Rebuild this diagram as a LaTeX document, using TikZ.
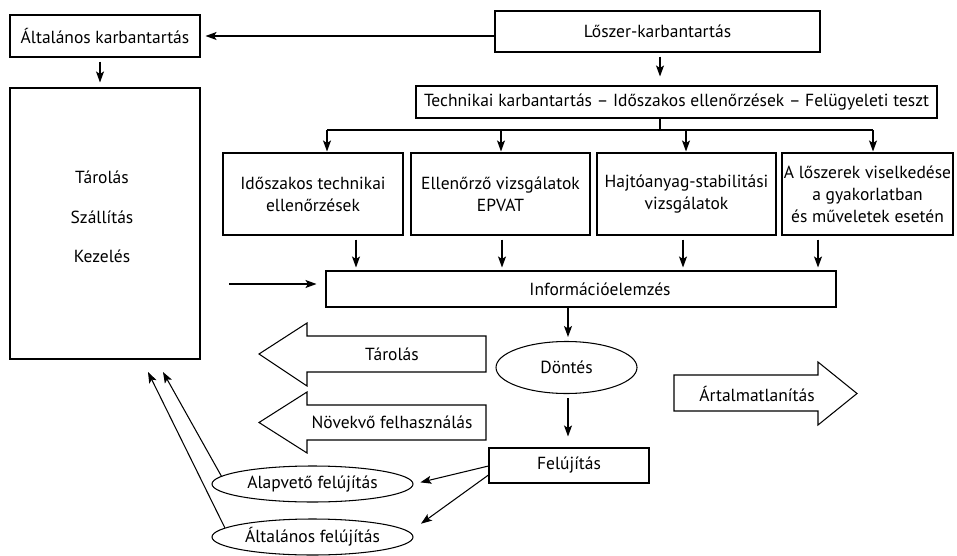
\documentclass[tikz,border=0pt]{standalone}
\usepackage{fontspec}
\setmainfont{PT Sans}
\usetikzlibrary{arrows.meta,shapes.geometric}
\begin{document}
\begin{tikzpicture}[x=1pt,y=-1pt,
  every node/.style={font=\fontsize{17.5}{22}\selectfont},
  box/.style={draw, line width=1.05pt, rectangle, inner sep=0pt, align=center},
  oval/.style={draw, line width=1.05pt, ellipse, inner sep=0pt},
  arr/.style={line width=1.05pt, -{Stealth[length=11pt,width=8pt,inset=2.5pt]}},
  ln/.style={line width=1.05pt},
  bigarrow/.style={draw, line width=1.05pt, line join=miter},
]
\path[use as bounding box] (0,0) rectangle (957,556);

% nodes
\node[box, minimum width=190pt, minimum height=42pt] (gen) at (105,36) {Általános karbantartás};
\node[box, minimum width=325pt, minimum height=41pt] (losz) at (657.5,31.5) {Lőszer-karbantartás};
\node[box, minimum width=521pt, minimum height=32pt] (tech) at (676.5,102) {Technikai karbantartás – Időszakos ellenőrzések – Felügyeleti teszt};

\node[box, minimum width=180pt, minimum height=82pt] (b1) at (313,194) {Időszakos technikai\\ellenőrzések};
\node[box, minimum width=179pt, minimum height=82pt] (b2) at (500.5,194) {Ellenőrző vizsgálatok\\EPVAT};
\node[box, minimum width=179pt, minimum height=82pt] (b3) at (686.5,194) {Hajtóanyag-stabilitási\\vizsgálatok};
\node[box, minimum width=171pt, minimum height=82pt] (b4) at (867.5,194) {A lőszerek viselkedése\\a gyakorlatban\\és műveletek esetén};

\node[box, minimum width=510pt, minimum height=36pt] (info) at (581,289) {\hspace*{38pt}Információelemzés};

\node[box, minimum width=190pt, minimum height=271pt] (big) at (105,223.5) {};
\node[align=center, font=\fontsize{17.5}{39.5}\selectfont] (bigtxt) at (102,217) {Tárolás\\Szállítás\\Kezelés};

\node[oval, minimum width=141pt, minimum height=52pt] (dont) at (566.5,367.5) {Döntés};
\node[box, minimum width=160pt, minimum height=35pt] (felu) at (569,465.5) {Felújítás};
\node[oval, minimum width=201pt, minimum height=36pt] (alap) at (312.5,484) {Alapvető felújítás};
\node[oval, minimum width=201pt, minimum height=36pt] (alt) at (312.5,537) {Általános felújítás};

% big block arrows
\draw[bigarrow] (486,336) -- (307,336) -- (307,323) -- (259,354) -- (307,386) -- (307,372) -- (486,372) -- cycle;
\node (tarl) at (392,354) {Tárolás};
\draw[bigarrow] (486,405) -- (307,405) -- (307,392) -- (259,422.5) -- (307,453) -- (307,440) -- (486,440) -- cycle;
\node (novk) at (392,422) {Növekvő felhasználás};
\draw[bigarrow] (674,375) -- (818,375) -- (818,362) -- (857,393.5) -- (818,425) -- (818,411) -- (674,411) -- cycle;
\node (artl) at (757,394) {Ártalmatlanítás};

% connectors
\draw[arr, shorten >=5pt] (gen.east -| losz.west) -- (gen.east);
\draw[arr, shorten <=4pt, shorten >=5pt] ([xshift=-5pt]gen.south) -- ([xshift=-5pt]gen.south |- big.north);
\draw[arr, shorten <=4pt, shorten >=9pt] ([xshift=2.5pt]losz.south) -- ([xshift=2.5pt]losz.south |- tech.north);

\coordinate (bus) at (660,130);
\coordinate (i1) at ([xshift=14pt]b1.north);
\coordinate (i2) at ([xshift=0.5pt]b2.north);
\coordinate (i3) at ([xshift=-0.5pt]b3.north);
\coordinate (i4) at ([xshift=5.5pt]b4.north);
\coordinate (o1) at ([xshift=43pt]b1.south);
\coordinate (o2) at ([xshift=1.5pt]b2.south);
\coordinate (o3) at ([xshift=-3.5pt]b3.south);
\coordinate (o4) at ([xshift=-49.5pt]b4.south);

\draw[ln] (bus |- tech.south) -- (bus);
\draw[ln] (i1 |- bus) -- (i4 |- bus);
\foreach \k in {1,2,3,4} {
  \draw[arr, shorten >=1pt] (i\k |- bus) -- (i\k);
  \draw[arr, shorten <=4pt, shorten >=3pt] (o\k) -- (o\k |- info.north);
}

\coordinate (lin) at (229,284);
\draw[arr, shorten >=9pt] (lin) -- (lin -| info.west);

\draw[arr, shorten >=4pt] ([xshift=1.5pt]dont.north |- info.south) -- ([xshift=1.5pt]dont.north);
\draw[arr, shorten <=4pt, shorten >=11pt] ([xshift=1.5pt]dont.south) -- ([xshift=1.5pt]dont.south |- felu.north);

\draw[arr, shorten >=7pt] ([yshift=-0.5pt]felu.west) -- (alap.east);
\draw[arr, shorten >=14pt] ([yshift=-9.5pt]felu.west) -- (alt.3);

\coordinate (t1) at (163,372);
\coordinate (t2) at (148,372);
\draw[arr] (alap.175) -- (t1);
\draw[arr] (alt.174) -- (t2);
\end{tikzpicture}
\end{document}
